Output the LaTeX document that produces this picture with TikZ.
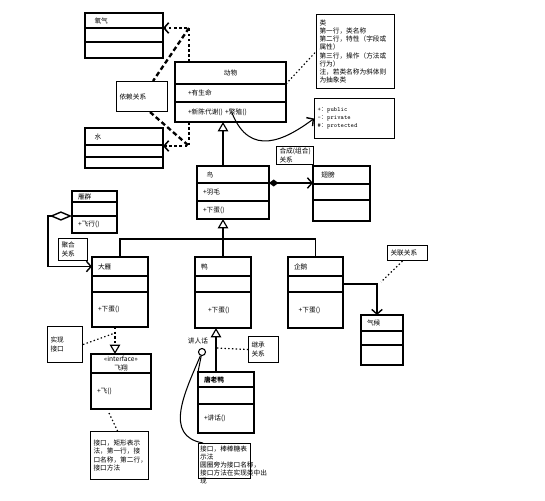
\documentclass[tikz,border=0pt]{standalone}
\usepackage{fontspec}
\setmainfont{Noto Sans CJK SC}
\usetikzlibrary{arrows.meta,calc,positioning}
\newcommand{\px}{0.03cm}
\tikzset{
	clsbox/.style={draw, line width=1.2pt, inner xsep=0.18cm, inner ysep=0pt, outer sep=0pt,
		align=left, font=\fontsize{5.7}{7}\selectfont},
	notebox/.style={draw, line width=0.9pt, inner xsep=0.09cm, inner ysep=1pt,
		align=left, font=\fontsize{5.7}{7}\selectfont},
	notetext/.style={inner sep=0pt, align=left, font=\fontsize{5.7}{6.8}\selectfont},
	dep/.style={-{Straight Barb[length=4pt,width=9pt,line width=1.3pt]},
		line width=2pt, dash pattern=on 2.2pt off 2.2pt},
	deplink/.style={line width=2pt, dash pattern=on 4pt off 2.5pt},
	link/.style={line width=1pt, dash pattern=on 1.2pt off 2pt},
	inh/.style={-{Triangle[open,length=8pt,width=9pt,line width=1pt]}, line width=1.2pt},
	real/.style={-{Triangle[open,length=8pt,width=9pt,line width=1pt]},
		line width=1.8pt, dash pattern=on 2pt off 2pt},
	assoc/.style={-{Straight Barb[length=4pt,width=9pt,line width=1.2pt]}, line width=1.2pt},
	comp/.style={{Diamond[length=8pt,width=6pt]}-{Straight Barb[length=4pt,width=9pt,line width=1.2pt]},
		line width=1.2pt},
	agg/.style={{Diamond[open,length=19pt,width=8pt,line width=1.2pt]}-{Straight Barb[length=4pt,width=9pt,line width=1.2pt]},
		line width=1.2pt},
	treeline/.style={line width=1.2pt},
	thinline/.style={line width=0.9pt},
	lolli/.style={circle, draw, line width=0.9pt, minimum size=6pt, inner sep=0pt},
}
% class box: name, top-left, width, three row heights, three texts
\newcommand{\umlclass}[9]{%
	\pgfmathsetlengthmacro{\clsw}{(#3-12)*\px}
	\node[clsbox, text width=\clsw, minimum height=#4*\px, anchor=north west] (#1) at #2 {#7};
	\node[clsbox, text width=\clsw, minimum height=#5*\px, anchor=north west] (#1-a) at (#1.south west) {#8};
	\node[clsbox, text width=\clsw, minimum height=#6*\px, anchor=north west] (#1-o) at (#1-a.south west) {#9};
}
% note box: name, top-left, width, height, text
\newcommand{\umlnote}[5]{%
	\pgfmathsetlengthmacro{\ntw}{(#3-6)*\px}
	\node[notebox, text width=\ntw, minimum height=#4*\px, anchor=north west] (#1) at #2 {#5};
}
\newcommand{\midtext}[1]{\hfill #1\hfill\hbox{}}

\begin{document}
\begin{tikzpicture}[x=0.03cm, y=-0.03cm]
	\path[fill=white] (0,0) rectangle (545,500);
	% classes
	\umlclass{yq}{(85,13)}{78}{15}{14}{16}{\hspace*{3pt}氧气}{}{}
	\umlclass{shui}{(85,128)}{78}{17}{12}{11}{\hspace*{3pt}水}{}{}
	\umlclass{dw}{(175,62)}{111}{22}{18}{20}{\midtext{动物}}{\hspace*{6pt}+有生命}{\hspace*{6pt}+新陈代谢() +繁殖()}
	\umlclass{niao}{(197,166)}{72}{17}{18}{18}{\hspace*{3pt}鸟}{+羽毛}{+下蛋()}
	\umlclass{cb}{(313,166)}{57}{18}{16}{21}{\hspace*{2pt}翅膀}{}{}
	\umlclass{yqun}{(72,191)}{45}{11}{14}{17}{雁群}{}{+飞行()}
	\umlclass{dy}{(92,257)}{56}{19}{16}{35}{大雁}{}{+下蛋()}
	\umlclass{ya}{(195,257)}{56}{19}{16}{36}{鸭}{}{\hspace*{6pt}+下蛋()}
	\umlclass{qe}{(288,257)}{55}{19}{16}{36}{企鹅}{}{\hspace*{4pt}+下蛋()}
	\umlclass{qh}{(361,315)}{42}{16}{14}{20}{气候}{}{}
	\umlclass{tly}{(198,372)}{56}{15}{17}{29}{\textbf{唐老鸭}}{}{+讲话()}
	\pgfmathsetlengthmacro{\fxw}{48*\px}
	\node[clsbox, text width=\fxw, minimum height=19*\px, anchor=north west, align=center] (fx) at (91,354) {«interface»\\飞翔};
	\node[clsbox, text width=\fxw, minimum height=36*\px, anchor=north west] (fx-b) at (fx.south west) {+飞()};
	% notes
	\umlnote{depnote}{(116,81)}{51}{30}{依赖关系}
	\umlnote{clsnote}{(316,14)}{78}{74}{类\\第一行，类名称\\第二行，特性（字段或\\属性）\\第三行，操作（方法或\\行为）\\注，若类名称为斜体则\\为抽象类}
	\umlnote{visnote}{(314,98)}{80}{40}{\fontsize{5.4}{6.8}\selectfont\ttfamily +{\rmfamily ：}public\\-{\rmfamily ：}private\\\#{\rmfamily ：}protected}
	\umlnote{hcnote}{(276,146)}{37}{18}{合成(组合)\\关系}
	\umlnote{jhnote}{(58,238)}{29}{22}{聚合\\关系}
	\umlnote{glnote}{(387,245)}{40}{15}{关联关系}
	\umlnote{sxnote}{(47,326)}{35}{36}{实现\\接口}
	\umlnote{jcnote}{(248,336)}{30}{26}{继承\\关系}
	\umlnote{ifnote}{(90,431)}{58}{48}{接口，矩形表示\\法，第一行，接\\口名称，第二行，\\接口方法}
	\node[notebox, minimum width=52*\px, minimum height=35*\px, anchor=north west] (lpnote) at (198,443) {};
	\node[notetext, anchor=north west] (lptext) at ($(lpnote.north west)+(2,3)$) {接口，棒棒糖表\\示法\\圆圈旁为接口名称，\\接口方法在实现类中出\\现};
	% dependency
	\coordinate (dep1) at (189,28);
	\coordinate (dep2) at (189,146);
	\draw[dep] (dw.north -| dep1) -- (dep1) -- (dep1 -| yq.east);
	\draw[dep] (dw-o.south -| dep2) -- (dep2) -- (dep2 -| shui.east);
	\draw[deplink] (dep1) -- ($(depnote.north)+(11,0)$);
	\draw[deplink] ($(depnote.south)+(8,0)$) -- (dep2);
	\draw[link] (dw.south east) -- (clsnote.west);
	\coordinate (fz) at (232,113);
	\draw[assoc, line width=0.9pt] (fz) .. controls (250,158) and (285,140) .. (visnote.west);
	% inheritance
	\coordinate (i1) at ($(niao.north)+(-10,0)$);
	\draw[inh] (i1) -- (i1 |- dw-o.south);
	\coordinate (fork) at (223,239);
	\draw[treeline] (dy.north) |- (fork) -| (qe.north);
	\draw[inh] (ya.north) -- (ya.north |- niao-o.south);
	\coordinate (i2) at ($(tly.north)+(-10,0)$);
	\draw[inh] (i2) -- (i2 |- ya-o.south);
	\draw[link] ($(i2)+(1,-24)$) -- (jcnote.west);
	% composition
	\draw[comp] (niao.south east) -- (niao.south east -| cb.west);
	\draw[link] ($(hcnote.south)+(-3,0)$) -- ($(hcnote.south)+(-3,0)$ |- niao.south);
	% aggregation
	\draw[agg] (yqun-o.north west) -- ++(-24,0) |- (dy.west);
	% realization
	\coordinate (r1) at ($(dy-o.south)+(-5,0)$);
	\draw[real] (r1) -- (r1 |- fx.north);
	\draw[link] (sxnote.east) -- ($(r1)+(0,6)$);
	\draw[link] ($(fx-b.south)+(-12,4)$) -- ($(ifnote.north)+(-2,0)$);
	% association
	\coordinate (a1) at ($(qh.north)+(-5,0)$);
	\draw[assoc] (qe-a.east) -| (a1);
	\draw[link] ($(glnote.south)+(-5,0)$) -- ($(a1 |- qe-a.east)+(4,-2)$);
	% lollipop
	\node[lolli] (jrh) at (202,352) {};
	\node[notetext] (jrhtext) at (198,341) {讲人话};
	\draw[thinline] (jrh) -- (tly.north west);
	\draw[thinline] (jrh) .. controls (185,392) and (163,436) .. ($(lpnote.north west)+(5,0)$);
\end{tikzpicture}
\end{document}
